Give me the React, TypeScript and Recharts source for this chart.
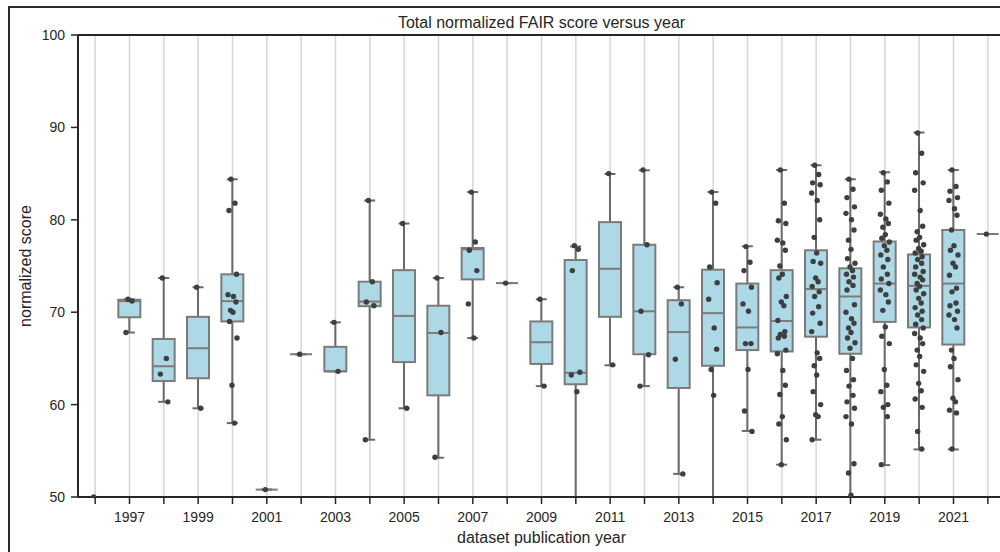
import React from 'react';
import { ComposedChart, Bar, Scatter, XAxis, YAxis, CartesianGrid, ReferenceLine } from 'recharts';

const years = ['1996','1997','1998','1999','2000','2001','2002','2003','2004','2005','2006','2007','2008','2009','2010','2011','2012','2013','2014','2015','2016','2017','2018','2019','2020','2021','2022'];

const whiskerLow  = [50, 67.8, 60.3, 59.6, 58.0, 50.8, 65.45, 63.6, 56.2, 59.6, 54.25, 67.2, 73.15, 62.0, 40, 64.25, 62.0, 52.5, 40, 57.15, 53.5, 56.2, 50.0, 53.45, 55.15, 55.15, 78.45];
const quartile1   = [50, 69.45, 62.55, 62.85, 69.0, 50.8, 65.45, 63.6, 70.65, 64.6, 61.0, 73.55, 73.15, 64.4, 62.2, 69.5, 65.45, 61.8, 64.2, 65.9, 65.75, 67.35, 65.5, 68.95, 68.35, 66.5, 78.45];
const medianScore = [50, 71.2, 64.15, 66.1, 71.2, 50.8, 65.45, 63.6, 71.15, 69.6, 67.75, 76.8, 73.15, 66.75, 63.45, 74.7, 70.1, 67.85, 69.9, 68.35, 69.05, 72.5, 71.7, 73.1, 72.85, 73.1, 78.45];
const quartile3   = [50, 71.35, 67.1, 69.5, 74.1, 50.8, 65.45, 66.25, 73.3, 74.55, 70.7, 76.95, 73.15, 69.0, 75.65, 79.75, 77.3, 71.3, 74.6, 73.1, 74.55, 76.7, 74.75, 77.65, 76.25, 78.9, 78.45];
const whiskerHigh = [50, 71.4, 73.7, 72.7, 84.4, 50.8, 65.45, 68.9, 82.1, 79.6, 73.7, 83.0, 73.15, 71.4, 77.1, 84.95, 85.35, 72.7, 83.0, 77.15, 85.4, 85.9, 84.4, 85.15, 89.45, 85.4, 78.45];

const s1996 = [50];
const s1997 = [71.4, 71.2, 67.8];
const s1998 = [73.7, 65.0, 63.3, 60.3];
const s1999 = [72.7, 59.6];
const s2000 = [84.4, 81.8, 81.0, 74.1, 71.9, 71.7, 71.1, 70.2, 70.0, 69.0, 67.2, 62.1, 58.0];
const s2001 = [50.8];
const s2002 = [65.45];
const s2003 = [68.9, 63.6];
const s2004 = [82.1, 73.3, 71.1, 70.7, 56.2];
const s2005 = [79.6, 59.6];
const s2006 = [73.7, 67.8, 54.3];
const s2007 = [83.0, 77.6, 76.7, 74.5, 70.9, 67.2];
const s2008 = [73.15];
const s2009 = [71.4, 62.0];
const s2010 = [77.2, 76.8, 74.5, 63.5, 63.2, 61.4];
const s2011 = [85.0, 64.3];
const s2012 = [85.4, 77.3, 70.1, 65.4, 62.0];
const s2013 = [72.7, 70.9, 64.9, 52.5];
const s2014 = [83.0, 81.8, 74.9, 73.2, 71.4, 68.3, 66.0, 63.8, 61.0];
const s2015 = [77.1, 75.4, 74.5, 72.7, 70.9, 70.1, 66.6, 66.6, 63.8, 59.3, 57.1];
const s2016 = [85.4, 81.8, 79.9, 79.6, 77.8, 77.5, 76.7, 75.0, 74.1, 73.7, 71.7, 71.1, 70.7, 69.1, 67.9, 67.6, 67.4, 67.2, 65.9, 65.5, 63.7, 62.1, 61.1, 58.7, 57.9, 56.2, 53.5];
const s2017 = [85.9, 84.9, 84.0, 83.8, 82.9, 82.1, 80.0, 78.1, 76.4, 75.5, 75.3, 73.7, 73.3, 72.8, 72.2, 71.7, 70.6, 69.9, 68.8, 67.9, 65.6, 65.0, 64.2, 63.2, 61.4, 60.0, 58.9, 58.7, 56.2];
const s2018 = [84.4, 83.3, 82.4, 81.4, 80.7, 80.0, 78.9, 77.8, 76.8, 75.8, 75.3, 74.9, 74.5, 74.1, 73.8, 73.3, 72.9, 72.4, 70.8, 70.0, 69.3, 68.8, 68.3, 67.8, 67.2, 66.7, 66.1, 65.0, 63.7, 62.7, 62.0, 61.0, 60.3, 59.6, 58.7, 57.9, 53.6, 52.6, 50.2];
const s2019 = [85.1, 84.1, 83.2, 81.8, 80.6, 80.1, 79.6, 79.2, 78.4, 78.0, 77.6, 77.2, 76.7, 76.2, 75.7, 74.9, 74.1, 73.6, 73.1, 72.4, 71.9, 71.1, 70.2, 68.4, 67.4, 66.6, 63.8, 62.1, 61.4, 60.0, 59.7, 58.7, 53.5];
const s2020 = [89.4, 87.2, 85.1, 84.0, 83.2, 81.0, 79.3, 78.7, 78.1, 77.8, 77.3, 76.9, 76.6, 76.4, 76.0, 75.7, 75.3, 74.9, 74.4, 74.1, 73.8, 73.5, 73.1, 72.8, 72.4, 72.0, 71.5, 71.0, 70.5, 70.1, 69.7, 69.2, 68.7, 68.3, 67.7, 67.2, 66.6, 65.9, 65.2, 64.3, 63.6, 62.3, 61.5, 60.6, 59.7, 57.1, 55.2];
const s2021 = [85.4, 83.6, 83.1, 82.4, 82.1, 81.2, 80.5, 78.9, 77.2, 76.7, 76.2, 75.3, 74.9, 74.0, 72.6, 72.2, 71.0, 70.7, 70.1, 69.7, 69.2, 68.3, 65.9, 65.0, 64.1, 62.7, 60.7, 60.3, 59.4, 59.1, 55.2];
const s2022 = [78.45];

const scoresByYear = [s1996, s1997, s1998, s1999, s2000, s2001, s2002, s2003, s2004, s2005, s2006, s2007, s2008, s2009, s2010, s2011, s2012, s2013, s2014, s2015, s2016, s2017, s2018, s2019, s2020, s2021, s2022];

const yTicks = [50, 60, 70, 80, 90, 100];
const titleText = 'Total normalized FAIR score versus year';
const xLabelText = 'dataset publication year';
const yLabelText = 'normalized score';

const boxData = years.map((year, i) => ({
  year,
  range: [whiskerLow[i], whiskerHigh[i]],
  lo: whiskerLow[i],
  q1: quartile1[i],
  med: medianScore[i],
  q3: quartile3[i],
  hi: whiskerHigh[i],
}));

const pointData = years.flatMap((year, i) => scoresByYear[i].map((score, j) => ({ year, score, j })));

const FONT = '"Liberation Sans", Arial, sans-serif';
const TEXT = '#262626';
const JITTER = [-1.5, 2.5, -3.5, 4, -4.5, 1, 3.5, -2, 0.5, -3, 4.5, -0.5, 2, -4, 3];

const BoxShape = (props: any) => {
  const { x, y, width, height, payload } = props;
  if (!payload) return null;
  const { lo, q1, med, q3, hi } = payload;
  const span = hi - lo;
  const k = span > 0 ? height / span : 0;
  const py = (v: number) => y + (hi - v) * k;
  const cx = x + width / 2;
  const cap = width / 4;
  const lineColor = '#6a6a6a';
  const edge = '#7b7b7b';
  return (
    <g>
      <line x1={cx} x2={cx} y1={py(hi)} y2={py(q3)} stroke={lineColor} strokeWidth={2} />
      <line x1={cx} x2={cx} y1={py(q1)} y2={py(lo)} stroke={lineColor} strokeWidth={2} />
      <line x1={cx - cap} x2={cx + cap} y1={py(hi)} y2={py(hi)} stroke={lineColor} strokeWidth={2} />
      <line x1={cx - cap} x2={cx + cap} y1={py(lo)} y2={py(lo)} stroke={lineColor} strokeWidth={2} />
      <rect x={x} y={py(q3)} width={width} height={Math.max(0, py(q1) - py(q3))} fill="#add8e6" stroke={edge} strokeWidth={2} />
      <line x1={x} x2={x + width} y1={py(med)} y2={py(med)} stroke={edge} strokeWidth={2} />
    </g>
  );
};

const PointShape = (props: any) => {
  const { cx, cy, payload } = props;
  if (cx == null || cy == null) return null;
  const dx = JITTER[(payload?.j ?? 0) % JITTER.length];
  return <circle cx={cx + dx} cy={cy} r={2.7} fill="#3f3f3f" />;
};

const XTick = (props: any) => {
  const { x, y, payload } = props;
  const v = String(payload?.value ?? '');
  if (Number(v) % 2 === 0) return null;
  return (
    <text x={x} y={y} dy="0.71em" textAnchor="middle" fill={TEXT} fontSize={14} fontFamily={FONT}>{v}</text>
  );
};

export default function App() {
  return (
    <div style={{ position: 'absolute', left: 0, top: 0, width: 1000, height: 552, overflow: 'hidden', background: '#fff' }}>
      <style>{`body{margin:0;overflow:hidden;background:#fff}`}</style>
      <div style={{ position: 'absolute', left: 8, top: 6, width: 1100, height: 700, borderLeft: '2px solid #2a2a2a', borderTop: '2px solid #2a2a2a', boxSizing: 'border-box' }} />
      <div style={{ position: 'absolute', left: 0, top: 0 }}>
        <ComposedChart width={1020} height={552} data={boxData} margin={{ top: 35, right: 15, bottom: 15, left: 0 }}>
          <CartesianGrid vertical horizontal={false} stroke="#d6d6d6" strokeWidth={1.5} />
          <XAxis
            dataKey="year"
            type="category"
            allowDuplicatedCategory={false}
            interval={0}
            height={40}
            tickSize={7}
            tickMargin={8}
            tick={<XTick />}
            axisLine={{ stroke: TEXT, strokeWidth: 2 }}
            tickLine={{ stroke: TEXT, strokeWidth: 1.5 }}
            label={{
              content: (p: any) => {
                const vb = p.viewBox || {};
                return (
                  <text x={vb.x + vb.width / 2} y={537} textAnchor="middle" dominantBaseline="central" fill={TEXT} fontSize={16} fontFamily={FONT}>{xLabelText}</text>
                );
              },
            }}
          />
          <YAxis
            type="number"
            domain={[50, 100]}
            ticks={yTicks}
            allowDataOverflow
            width={78}
            tickSize={7}
            tickMargin={6}
            tick={{ fill: TEXT, fontSize: 14, fontFamily: FONT }}
            axisLine={{ stroke: TEXT, strokeWidth: 2 }}
            tickLine={{ stroke: TEXT, strokeWidth: 1.5 }}
            label={{
              content: (p: any) => {
                const vb = p.viewBox || {};
                const cy = vb.y + vb.height / 2;
                return (
                  <text x={25} y={cy} transform={`rotate(-90, 25, ${cy})`} textAnchor="middle" dominantBaseline="central" fill={TEXT} fontSize={16} fontFamily={FONT}>{yLabelText}</text>
                );
              },
            }}
          />
          <Bar dataKey="range" barSize={22} shape={<BoxShape />} isAnimationActive={false} />
          <Scatter data={pointData} dataKey="score" shape={<PointShape />} isAnimationActive={false} />
          <ReferenceLine
            y={100}
            stroke={TEXT}
            strokeWidth={2}
            label={{
              content: (p: any) => {
                const vb = p.viewBox || {};
                return (
                  <text x={vb.x + vb.width / 2} y={22} textAnchor="middle" dominantBaseline="central" fill={TEXT} fontSize={16} fontFamily={FONT}>{titleText}</text>
                );
              },
            }}
          />
        </ComposedChart>
      </div>
    </div>
  );
}
